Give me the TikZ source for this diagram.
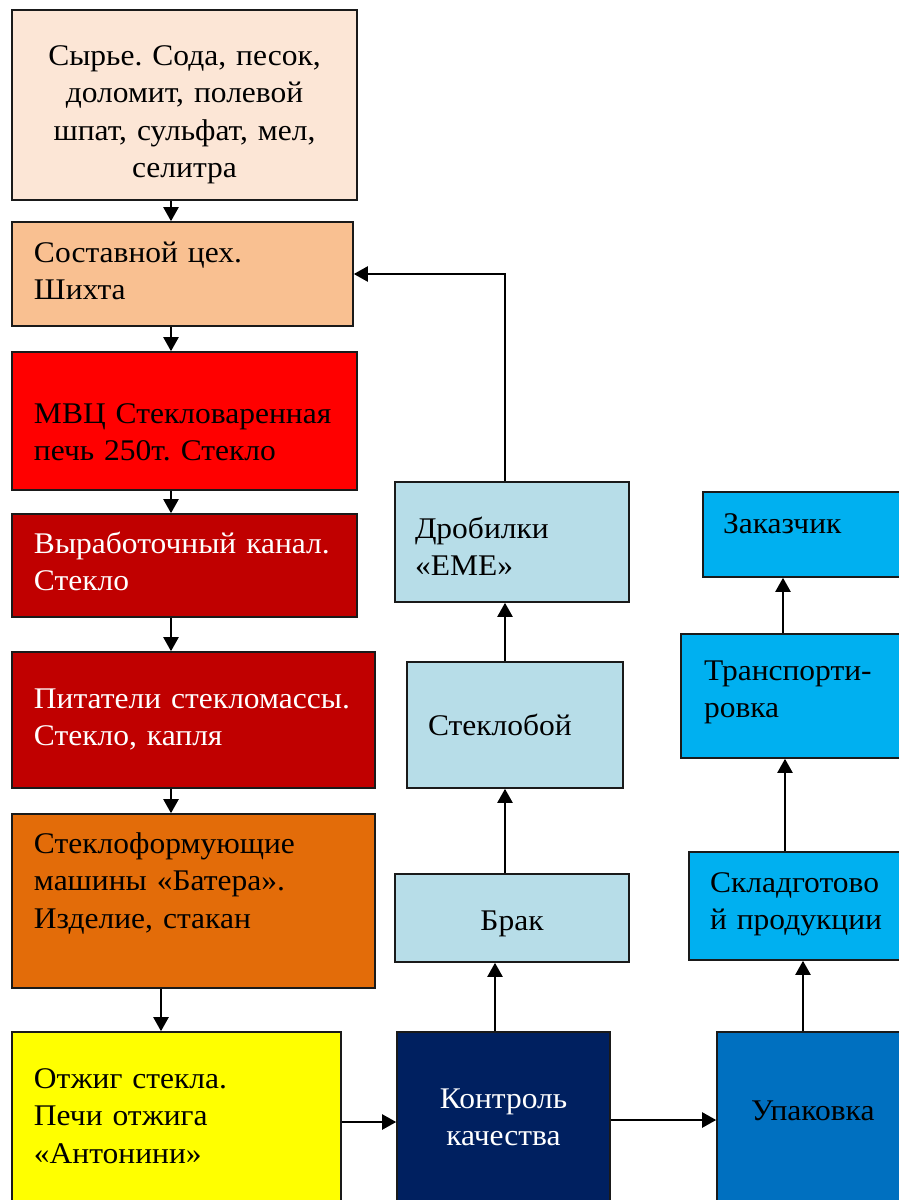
\documentclass[tikz,border=0pt]{standalone}
\usepackage{fontspec}
\setmainfont[FakeStretch=1.05]{Liberation Serif}
\usetikzlibrary{arrows.meta}

\definecolor{rawfill}{HTML}{FCE6D6}
\definecolor{batchfill}{HTML}{F9C091}
\definecolor{hotred}{HTML}{FF0000}
\definecolor{darkred}{HTML}{C00000}
\definecolor{formfill}{HTML}{E36C09}
\definecolor{annealfill}{HTML}{FFFF00}
\definecolor{navyfill}{HTML}{002060}
\definecolor{packfill}{HTML}{0070C0}
\definecolor{palefill}{HTML}{B7DDE8}
\definecolor{skyfill}{HTML}{00B0F0}
\definecolor{edge}{HTML}{1A1A1A}

\begin{document}
\frenchspacing
\begin{tikzpicture}[x=1pt, y=-1pt,
		box/.style={draw=edge, line width=1.6pt, rectangle, inner ysep=0pt,
			font=\fontsize{30}{37.5}\selectfont, align=left, text height=20pt},
		flow/.style={line width=2.2pt, -{Triangle[length=14pt, width=15pt]}}]
	\useasboundingbox (0,0) rectangle (899,1200);
	
	% --- LEFT COLUMN: MELTING AND FORMING ---
	\node[box, fill=rawfill, align=center, inner xsep=10pt, text width=325pt, minimum height=190pt, text depth=100pt]
		(raw) at (184.5,105) {Сырье. Сода, песок,\\ доломит, полевой\\ шпат, сульфат, мел,\\ селитра};
	\node[box, fill=batchfill, inner xsep=22pt, text width=297pt, minimum height=104pt, text depth=44pt]
		(batch) at (182.5,274) {Составной цех.\\ Шихта};
	\node[box, fill=hotred, inner xsep=22pt, text width=301pt, minimum height=138pt, text depth=16pt]
		(furnace) at (184.5,421) {МВЦ~Стекловаренная\\ печь 250т. Стекло};
	\node[box, fill=darkred, text=white, inner xsep=22pt, text width=301pt, minimum height=103pt, text depth=45pt]
		(channel) at (184.5,565.5) {Выработочный~канал.\\ Стекло};
	\node[box, fill=darkred, text=white, inner xsep=22pt, text width=319pt, minimum height=136pt, text depth=44pt]
		(feeder) at (193.5,720) {Питатели~стекломассы.\\ Стекло, капля};
	\node[box, fill=formfill, inner xsep=22pt, text width=319pt, minimum height=174pt, text depth=116pt]
		(forming) at (193.5,901) {Стеклоформующие\\ машины «Батера».\\ Изделие, стакан};
	
	% --- BOTTOM ROW: ANNEALING, CONTROL, PACKING ---
	\node[box, fill=annealfill, inner xsep=22pt, text width=285pt, minimum height=178pt, text depth=86pt]
		(anneal) at (176.5,1121) {Отжиг стекла.\\ Печи отжига\\ «Антонини»};
	\node[box, fill=navyfill, text=white, align=center, inner xsep=10pt, text width=193pt, minimum height=178pt, text depth=46pt]
		(control) at (503.5,1121) {Контроль\\ качества};
	\node[box, fill=packfill, inner xsep=34pt, text width=130pt, minimum height=178pt, text depth=22pt]
		(pack) at (816,1121) {Упаковка};
	
	% --- MIDDLE COLUMN: CULLET RETURN ---
	\node[box, fill=palefill, align=center, inner xsep=10pt, text width=214pt, minimum height=88pt, text height=30pt, text depth=6pt]
		(reject) at (512,918) {Брак};
	\node[box, fill=palefill, inner xsep=21pt, text width=174pt, minimum height=126pt, text depth=0pt]
		(cullet) at (515,725) {Стеклобой};
	\node[box, fill=palefill, inner xsep=20pt, text width=194pt, minimum height=120pt, text depth=28pt]
		(crushers) at (512,542) {Дробилки\\ «ЕМЕ»};
	
	% --- RIGHT COLUMN: DISPATCH ---
	\node[box, fill=skyfill, inner xsep=21pt, text width=179pt, minimum height=108pt, text depth=48pt]
		(stock) at (799.5,906) {Складготово\\й продукции};
	\node[box, fill=skyfill, inner xsep=23pt, text width=183pt, minimum height=124pt, text depth=52pt]
		(transport) at (795.5,696) {Транспорти-\\ровка};
	\node[box, fill=skyfill, inner xsep=20pt, text width=167pt, minimum height=85pt, text depth=23pt]
		(customer) at (806.5,534.5) {Заказчик};
	
	% --- FLOW ARROWS ---
	\draw[flow] (raw.south -| 171,0) -- (batch.north -| 171,0);
	\draw[flow] (batch.south -| 171,0) -- (furnace.north -| 171,0);
	\draw[flow] (furnace.south -| 171,0) -- (channel.north -| 171,0);
	\draw[flow] (channel.south -| 171,0) -- (feeder.north -| 171,0);
	\draw[flow] (feeder.south -| 171,0) -- (forming.north -| 171,0);
	\draw[flow] (forming.south -| 161,0) -- (anneal.north -| 161,0);
	\draw[flow] (anneal.east |- 0,1122) -- (control.west |- 0,1122);
	\draw[flow] (control.east |- 0,1120) -- (pack.west |- 0,1120);
	
	% Cullet loop back to the batch house
	\draw[flow] (control.north -| 495,0) -- (reject.south -| 495,0);
	\draw[flow] (reject.north -| 505,0) -- (cullet.south -| 505,0);
	\draw[flow] (cullet.north -| 505,0) -- (crushers.south -| 505,0);
	\draw[flow] (crushers.north -| 505,0) |- (batch.east);
	
	% Finished goods to the customer
	\draw[flow] (pack.north -| 803,0) -- (stock.south -| 803,0);
	\draw[flow] (stock.north -| 785,0) -- (transport.south -| 785,0);
	\draw[flow] (transport.north -| 783,0) -- (customer.south -| 783,0);
\end{tikzpicture}
\end{document}
